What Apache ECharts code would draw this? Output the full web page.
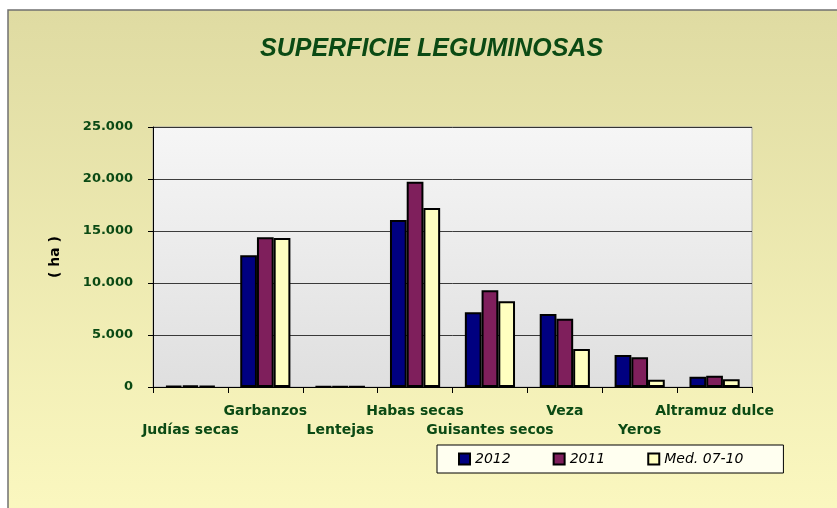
<!DOCTYPE html>
<html>
<head>
<meta charset="utf-8">
<script src="https://cdn.jsdelivr.net/npm/echarts@6/dist/echarts.min.js"></script>
<style>
  html, body { margin: 0; padding: 0; background: #fff; }
  #chart { width: 837px; height: 508px; }
</style>
</head>
<body>
<div id="chart"></div>
<script>
// datos
var categorias = ['Judías secas', 'Garbanzos', 'Lentejas', 'Habas secas', 'Guisantes secos', 'Veza', 'Yeros', 'Altramuz dulce'];
var serie2012 = [110, 12660, 60, 16060, 7180, 7020, 3080, 990];
var serie2011 = [130, 14400, 70, 19740, 9300, 6570, 2850, 1090];
var serieMedia = [120, 14330, 60, 17210, 8240, 3650, 700, 740];
var nombres = ['2012', '2011', 'Med. 07-10'];
var colores = ['#000080', '#7f1f5c', '#ffffc0'];

var verde = '#0b4a14';
var fuente = '"DejaVu Sans", "Liberation Sans", Arial, sans-serif';

(function () {
  var myChart = echarts.init(document.getElementById('chart'));

  // separador de miles con punto
  function miles(v) {
    return String(v).replace(/\B(?=(\d{3})+(?!\d))/g, '.');
  }

  function barra(i, datos) {
    return {
      name: nombres[i],
      type: 'bar',
      data: datos,
      barGap: '0%',
      barCategoryGap: '33%',
      itemStyle: {
        color: colores[i],
        borderColor: '#000',
        borderWidth: 2
      }
    };
  }

  var option = {
    animation: false,
    textStyle: { fontFamily: fuente },
    // fondo y marco exterior
    graphic: [
      {
        type: 'rect',
        z: -100,
        shape: { x: 8, y: 10, width: 840, height: 510 },
        style: {
          fill: new echarts.graphic.LinearGradient(0, 0, 0, 1, [
            { offset: 0, color: '#dfdba2' },
            { offset: 1, color: '#fbf8c0' }
          ]),
          stroke: '#707070',
          lineWidth: 1.5
        }
      }
    ],
    title: {
      text: 'SUPERFICIE LEGUMINOSAS',
      left: 255,
      top: 32,
      textStyle: {
        color: verde,
        fontFamily: '"Liberation Sans", Arial, sans-serif',
        fontSize: 25,
        fontWeight: 'bold',
        fontStyle: 'italic'
      }
    },
    legend: {
      left: 437,
      top: 445,
      width: 346,
      padding: [7, 40, 7, 21],
      itemGap: 42,
      itemWidth: 11,
      itemHeight: 11,
      icon: 'rect',
      borderColor: '#000',
      borderWidth: 1,
      backgroundColor: '#fffff0',
      textStyle: {
        color: '#000',
        fontFamily: fuente,
        fontSize: 14,
        fontStyle: 'italic'
      },
      data: nombres
    },
    grid: {
      left: 153,
      right: 85,
      top: 127,
      bottom: 121,
      show: true,
      borderColor: '#a8a8a8',
      borderWidth: 1,
      backgroundColor: new echarts.graphic.LinearGradient(0, 0, 0, 1, [
        { offset: 0, color: '#f6f6f6' },
        { offset: 1, color: '#dfdfdf' }
      ])
    },
    xAxis: {
      type: 'category',
      data: categorias,
      axisLine: { lineStyle: { color: '#000', width: 1 } },
      axisTick: { show: true, length: 6, lineStyle: { color: '#000' } },
      axisLabel: {
        interval: 0,
        margin: 15,
        color: verde,
        fontFamily: fuente,
        fontSize: 14,
        fontWeight: 'bold',
        lineHeight: 19,
        formatter: function (v, i) {
          return i % 2 === 0 ? '\n' + v : v;
        }
      }
    },
    yAxis: {
      type: 'value',
      min: 0,
      max: 25000,
      interval: 5000,
      name: '( ha )',
      nameLocation: 'middle',
      nameRotate: 90,
      nameGap: 91,
      nameTextStyle: {
        color: '#000',
        fontFamily: fuente,
        fontSize: 14,
        fontWeight: 'bold'
      },
      axisLine: { show: true, lineStyle: { color: '#000', width: 1 } },
      axisTick: { show: true, length: 5, lineStyle: { color: '#000' } },
      axisLabel: {
        margin: 20,
        color: verde,
        fontFamily: fuente,
        fontSize: 13,
        fontWeight: 'bold',
        formatter: miles
      },
      splitLine: { lineStyle: { color: '#000', width: 1, opacity: 0.75 } }
    },
    series: [
      barra(0, serie2012),
      barra(1, serie2011),
      barra(2, serieMedia)
    ]
  };

  myChart.setOption(option);
  window.addEventListener('resize', function () {
    myChart.resize();
  });
})();
</script>
</body>
</html>
